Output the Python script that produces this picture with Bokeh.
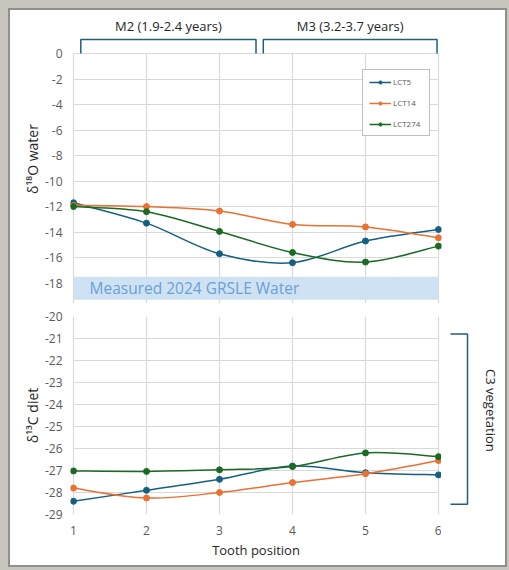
import numpy as np
from bokeh.plotting import figure
from bokeh.models import (Range1d, FixedTicker, Legend, LegendItem, BoxAnnotation, Label,
                          PrintfTickFormatter)
from bokeh.layouts import column, row
from bokeh.core.properties import value
from bokeh.embed import file_html
from bokeh.resources import INLINE

# ---------------- data ----------------
tooth_position = [1, 2, 3, 4, 5, 6]
series_names = ["LCT5", "LCT14", "LCT274"]
series_colors = ["#156082", "#E97132", "#196B24"]

d18o_lct5 = [-11.7, -13.3, -15.7, -16.4, -14.7, -13.8]
d18o_lct14 = [-11.9, -12.0, -12.35, -13.4, -13.6, -14.45]
d18o_lct274 = [-12.0, -12.4, -13.95, -15.6, -16.35, -15.1]

d13c_lct5 = [-28.4, -27.9, -27.4, -26.8, -27.1, -27.2]
d13c_lct14 = [-27.8, -28.25, -28.0, -27.55, -27.15, -26.55]
d13c_lct274 = [-27.02, -27.04, -26.97, -26.82, -26.2, -26.37]

d18o_ticks = [0, -2, -4, -6, -8, -10, -12, -14, -16, -18]
d13c_ticks = [-20, -21, -22, -23, -24, -25, -26, -27, -28, -29]

water_band = (-19.3, -17.5)
water_label = "Measured 2024 GRSLE Water"
molar_labels = ["M2 (1.9-2.4 years)", "M3 (3.2-3.7 years)"]
molar_spans = [(1.1, 3.5), (3.6, 5.98)]
c3_range = (-28.53, -20.8)
c3_label = "C3 vegetation"
c3_label_y = -24.27
x_title = "Tooth position"

FONT = "Open Sans"
GRID = "#d9d9d9"
TICK = "#595959"
TXT = "#262626"
BRACKET = "#1f5f7e"
PAD = 3 / 73  # small x padding so end markers are not cut


def smooth_segments(xs, ys):
    x = np.asarray(xs, float)
    y = np.asarray(ys, float)
    n = len(x)
    xp = np.concatenate([[x[0]], x, [x[-1]]])
    yp = np.concatenate([[y[0]], y, [y[-1]]])
    return dict(
        x0=x[:-1], y0=y[:-1], x1=x[1:], y1=y[1:],
        cx0=xp[1:n] + (xp[2:n + 1] - xp[0:n - 1]) / 6,
        cy0=yp[1:n] + (yp[2:n + 1] - yp[0:n - 1]) / 6,
        cx1=xp[2:n + 1] - (xp[3:n + 2] - xp[1:n]) / 6,
        cy1=yp[2:n + 1] - (yp[3:n + 2] - yp[1:n]) / 6,
    )


def style_y(p, ticks, label):
    ax = p.yaxis[0]
    ax.ticker = FixedTicker(ticks=ticks)
    ax.formatter = PrintfTickFormatter(format="%d")
    ax.axis_label = label
    ax.axis_label_text_font = FONT
    ax.axis_label_text_font_size = "14px"
    ax.axis_label_text_font_style = "normal"
    ax.axis_label_text_color = TXT
    ax.axis_label_standoff = 0
    ax.major_label_text_font = FONT
    ax.major_label_text_font_size = "12px"
    ax.major_label_text_color = TICK
    ax.major_label_standoff = 2
    ax.axis_line_color = None
    ax.major_tick_line_color = None
    ax.minor_tick_line_color = None


def style_grid(p, ticks_y, xcross, ycross):
    for g in (p.xgrid[0], p.ygrid[0]):
        g.grid_line_color = GRID
        g.grid_line_width = 1.2
    p.xgrid[0].ticker = FixedTicker(ticks=tooth_position)
    p.ygrid[0].ticker = FixedTicker(ticks=ticks_y)
    if xcross is not None:
        p.xgrid[0].cross_bounds = xcross
    p.ygrid[0].cross_bounds = ycross


xr = (tooth_position[0] - PAD, tooth_position[-1] + PAD)

# ---------------- top chart ----------------
p1 = figure(frame_width=371, frame_height=289,
            x_range=Range1d(*xr), y_range=Range1d(-19.6, 3.06),
            output_backend="svg", toolbar_location=None, x_axis_location=None,
            min_border_left=60, min_border_right=64, min_border_top=4, min_border_bottom=0)
p1.outline_line_color = None
p1.background_fill_color = "white"
p1.border_fill_color = "white"
style_y(p1, d18o_ticks, "δ¹⁸O water")
style_grid(p1, d18o_ticks, (-19.6, 0), (1, 6))

p1.add_layout(BoxAnnotation(bottom=water_band[0], top=water_band[1], left=1, right=6,
                            fill_color="#cfe2f3", fill_alpha=1.0, line_color=None))
p1.add_layout(Label(x=1.22, y=sum(water_band) / 2, text=water_label, text_baseline="middle",
                    text_font=FONT, text_font_size="15.5px", text_color="#6b9fd6"))

for (a, b), lab in zip(molar_spans, molar_labels):
    p1.line(x=[a, a, b, b], y=[0, 1.1, 1.1, 0], line_color=BRACKET, line_width=1.5)
p1.text(x=[(a + b) / 2 for a, b in molar_spans], y=[2.12, 2.12], text=molar_labels,
        text_align="center", text_baseline="middle", text_font=value(FONT),
        text_font_size="13px", text_color=TXT)

items = []
for name, col, vals in zip(series_names, series_colors, [d18o_lct5, d18o_lct14, d18o_lct274]):
    p1.bezier(**smooth_segments(tooth_position, vals), line_color=col, line_width=1.5)
    sr = p1.scatter(x=tooth_position, y=vals, size=6, fill_color=col, line_color=col)
    dl = p1.line(x=[np.nan], y=[np.nan], line_color=col, line_width=1.5)
    items.append(LegendItem(label=name, renderers=[dl, sr]))

legend = Legend(items=items, location=(292, 167), padding=6, spacing=10, glyph_height=8,
                label_height=8, glyph_width=22, label_width=30, label_standoff=2,
                label_text_font=FONT, label_text_font_size="8px", label_text_color=TICK,
                border_line_color="#7f7f7f", border_line_width=1.5,
                background_fill_color="white", background_fill_alpha=1.0)
p1.add_layout(legend)

# ---------------- bottom chart ----------------
p2 = figure(frame_width=371, frame_height=198,
            x_range=Range1d(*xr), y_range=Range1d(-29, -20),
            output_backend="svg", toolbar_location=None,
            min_border_left=60, min_border_right=0, min_border_top=13, min_border_bottom=51)
p2.outline_line_color = None
p2.background_fill_color = "white"
p2.border_fill_color = "white"
style_y(p2, d13c_ticks, "δ¹³C diet")
style_grid(p2, d13c_ticks, None, (1, 6))

xa = p2.xaxis[0]
xa.ticker = FixedTicker(ticks=tooth_position)
xa.axis_label = x_title
xa.axis_label_text_font = FONT
xa.axis_label_text_font_size = "13px"
xa.axis_label_text_font_style = "normal"
xa.axis_label_text_color = TXT
xa.axis_label_standoff = 3
xa.major_label_text_font = FONT
xa.major_label_text_font_size = "12px"
xa.major_label_text_color = TICK
xa.major_label_standoff = 5
xa.axis_line_color = None
xa.major_tick_line_color = None
xa.minor_tick_line_color = None

for name, col, vals in zip(series_names, series_colors, [d13c_lct5, d13c_lct14, d13c_lct274]):
    p2.bezier(**smooth_segments(tooth_position, vals), line_color=col, line_width=1.5)
    p2.scatter(x=tooth_position, y=vals, size=6, fill_color=col, line_color=col)

# ---------------- right strip with the C3 bracket ----------------
p3 = figure(frame_width=64, frame_height=198, x_range=Range1d(0, 64), y_range=p2.y_range,
            output_backend="svg", toolbar_location=None,
            x_axis_location=None, y_axis_location=None,
            min_border_left=0, min_border_right=0, min_border_top=13, min_border_bottom=51)
p3.outline_line_color = None
p3.grid.visible = False
p3.background_fill_color = "white"
p3.border_fill_color = "white"
p3.line(x=[9, 26, 26, 9], y=[c3_range[1], c3_range[1], c3_range[0], c3_range[0]],
        line_color=BRACKET, line_width=1.5)
p3.add_layout(Label(x=49, y=c3_label_y, text=c3_label, angle=-np.pi / 2,
                    text_align="center", text_baseline="middle",
                    text_font=FONT, text_font_size="13px", text_color=TXT))

layout = column(p1, row(p2, p3), styles={"margin": "8px 0 0 8px", "border": "2px solid #8f8f8f",
                                         "background-color": "white",
                                         "box-shadow": "0 0 0 8px #c8c5bf"})

open("out.html", "w").write(file_html(layout, INLINE))
